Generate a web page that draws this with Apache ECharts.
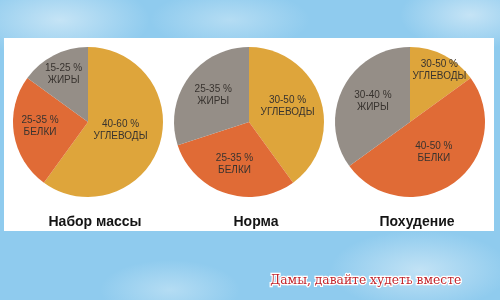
<!DOCTYPE html>
<html>
<head>
<meta charset="utf-8">
<script src="https://cdn.jsdelivr.net/npm/echarts@6/dist/echarts.min.js"></script>
<style>
html,body{margin:0;padding:0;}
body{
  width:500px;height:300px;overflow:hidden;
  background:
    radial-gradient(ellipse 90px 40px at 60px 20px, rgba(215,236,248,0.75), rgba(215,236,248,0)),
    radial-gradient(ellipse 80px 30px at 230px 20px, rgba(205,232,247,0.6), rgba(205,232,247,0)),
    radial-gradient(ellipse 70px 35px at 470px 15px, rgba(220,238,249,0.7), rgba(220,238,249,0)),
    radial-gradient(ellipse 90px 40px at 420px 270px, rgba(215,236,248,0.7), rgba(215,236,248,0)),
    radial-gradient(ellipse 70px 30px at 170px 290px, rgba(205,232,247,0.6), rgba(205,232,247,0)),
    #8fcbee;
}
#main{width:500px;height:300px;}
</style>
</head>
<body>
<div id="main"></div>
<script>
// ---- data ----
const categories = ['УГЛЕВОДЫ', 'БЕЛКИ', 'ЖИРЫ'];
const chartTitles = ['Набор массы', 'Норма', 'Похудение'];
const massGainValues = [60, 25, 15];
const normalValues = [40, 30, 30];
const weightLossValues = [15, 50, 35];
const massGainRanges = ['40-60 %', '25-35 %', '15-25 %'];
const normalRanges = ['30-50 %', '25-35 %', '25-35 %'];
const weightLossRanges = ['30-50 %', '40-50 %', '30-40 %'];
const footerText = 'Дамы, давайте худеть вместе';

// ---- styling (not data) ----
const sliceColors = ['#dea53b', '#e06b36', '#958e87'];
const centersX = [88, 249, 410];
const labelOffsets = [
  [[-6, -4], [-8, -2], [-6, -12]],
  [[0, -3], [-2, 4], [-3, -3]],
  [[11, -16], [0, -3], [-1, -2]]
];

const allValues = [massGainValues, normalValues, weightLossValues];
const allRanges = [massGainRanges, normalRanges, weightLossRanges];

const chart = echarts.init(document.getElementById('main'), null, {renderer: 'canvas'});

const series = allValues.map((vals, p) => ({
  type: 'pie',
  center: [centersX[p], 122],
  radius: [0, 75],
  startAngle: 90,
  clockwise: true,
  silent: true,
  animation: false,
  itemStyle: {borderWidth: 0},
  label: {
    show: true,
    position: 'inside',
    color: '#38332f',
    fontFamily: 'Liberation Sans, Arial, sans-serif',
    fontSize: 10,
    lineHeight: 12,
    align: 'center'
  },
  labelLine: {show: false},
  data: vals.map((v, i) => ({
    value: v,
    name: categories[i],
    itemStyle: {color: sliceColors[i]},
    label: {
      formatter: allRanges[p][i] + '\n' + categories[i],
      offset: labelOffsets[p][i]
    }
  }))
}));

const titles = chartTitles.map((t, p) => ({
  text: t,
  left: centersX[p] + 2,
  top: 210,
  textAlign: 'center',
  textStyle: {
    fontFamily: 'Liberation Sans, Arial, sans-serif',
    fontWeight: 'bold',
    fontSize: 14,
    color: '#141414'
  }
}));

chart.setOption({
  animation: false,
  backgroundColor: 'transparent',
  title: titles,
  graphic: [
    {
      type: 'rect',
      z: -10,
      shape: {x: 4, y: 38, width: 490, height: 193},
      style: {fill: '#ffffff'}
    },
    {
      type: 'text',
      left: 269,
      top: 274,
      style: {
        text: footerText,
        fill: '#c3262c',
        font: '12.3px "DejaVu Serif", "Liberation Serif", serif',
        stroke: '#ffffff',
        lineWidth: 2.5
      }
    }
  ],
  series: series
});
</script>
</body>
</html>
